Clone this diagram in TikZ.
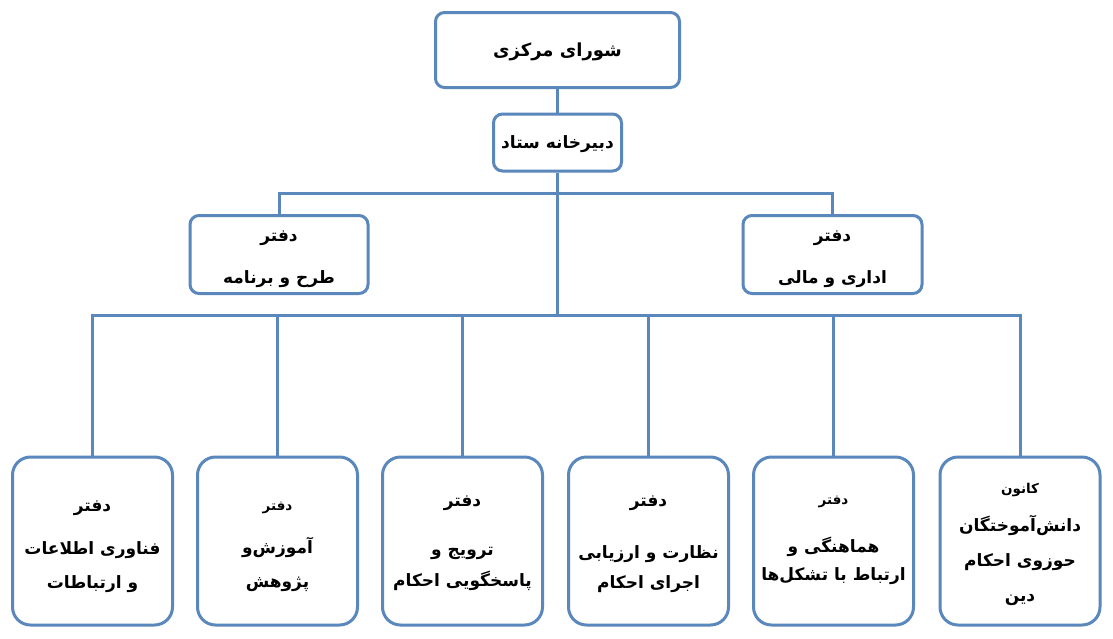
\documentclass[tikz,border=0pt]{standalone}
\usepackage{fontspec}
\newfontfamily\arabicfont[Script=Arabic]{DejaVu Sans}
\TeXXeTstate=1
\definecolor{boxblue}{HTML}{5A87BC}
\newcommand{\faline}[1]{\beginR #1\endR}
\newcommand{\smallfa}{\fontsize{13.5}{32}\selectfont}
\begin{document}
\begin{tikzpicture}[x=1pt,y=-1pt]
\tikzset{
  box/.style={draw=boxblue, line width=3pt, rounded corners=9pt, fill=white, inner sep=0pt},
  bigbox/.style={box, rounded corners=18pt, minimum width=160pt, minimum height=168pt},
  txt/.style={align=center, inner sep=0pt, font=\arabicfont\bfseries\fontsize{17}{32}\selectfont},
  conn/.style={draw=boxblue, line width=3pt}
}
\useasboundingbox[fill=white] (0,0) rectangle (1113,638);

% boxes
\node[box, minimum width=244pt, minimum height=75pt] (top) at (557.5,50) {};
\node[box, minimum width=128pt, minimum height=57pt] (sec) at (557.5,142.5) {};
\node[box, minimum width=178pt, minimum height=78pt] (midL) at (279,254.5) {};
\node[box, minimum width=179pt, minimum height=78pt] (midR) at (832.5,254.5) {};
\node[bigbox] (b1) at (92.5,541) {};
\node[bigbox] (b2) at (277.5,541) {};
\node[bigbox] (b3) at (462.5,541) {};
\node[bigbox] (b4) at (648.5,541) {};
\node[bigbox] (b5) at (833.5,541) {};
\node[bigbox] (b6) at (1020,541) {};

% texts
\node[txt, font=\arabicfont\bfseries\fontsize{18}{22}\selectfont] (topt) at ([yshift=-2pt]top.center) {\faline{شورای مرکزی}};
\node[txt] (sect) at ([yshift=-2pt]sec.center) {\faline{دبیرخانه ستاد}};
\node[txt] (midLt) at ([yshift=-5pt]midL.center) {\faline{دفتر}\\[10pt]\faline{طرح و برنامه}};
\node[txt] (midRt) at ([yshift=-5pt]midR.center) {\faline{دفتر}\\[10pt]\faline{اداری و مالی}};
\node[txt] (b1t) at ([yshift=-6pt]b1.center) {\faline{دفتر}\\[11pt]\faline{فناوری اطلاعات}\\[2pt]\faline{و ارتباطات}};
\node[txt] (b2t) at ([yshift=-6pt]b2.center) {{\smallfa\faline{دفتر}}\\[11pt]\faline{آموزش‌و}\\[2pt]\faline{پژوهش}};
\node[txt] (b3t) at ([yshift=-2pt]b3.center) {\faline{دفتر}\\[17pt]\faline{ترویج و}\\[-1pt]\faline{پاسخگویی احکام}};
\node[txt] (b4t) at ([yshift=-3pt]b4.center) {\faline{دفتر}\\[20pt]\faline{نظارت و ارزیابی}\\[-2pt]\faline{اجرای احکام}};
\node[txt] (b5t) at ([yshift=1pt]b5.center) {{\smallfa\faline{دفتر}}\\[16pt]\faline{هماهنگی و}\\[-4pt]\faline{ارتباط با تشکل‌ها}};
\node[txt] (b6t) at ([yshift=-3pt]b6.center) {{\smallfa\faline{کانون}}\\[6pt]\faline{دانش‌آموختگان}\\[3pt]\faline{حوزوی احکام}\\[3pt]\faline{دین}};

% junctions
\coordinate (j1) at (557.5,193);
\coordinate (j2) at (557.5,315);

% connectors
\draw[conn] (top.south) -- (sec.north);
\draw[conn] (sec.south) -- (j2);
\draw[conn] (midL.north) |- (j1) -| (midR.north);
\draw[conn] (b1.north) |- (j2) -| (b6.north);
\foreach \b in {b2,b3,b4,b5} {
  \draw[conn] (\b.north) -- (\b.north |- j2);
}
\end{tikzpicture}
\end{document}
